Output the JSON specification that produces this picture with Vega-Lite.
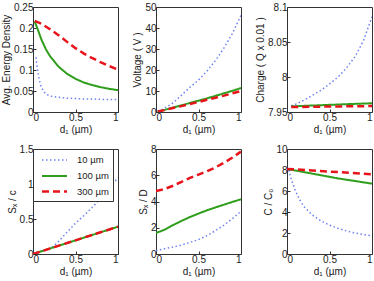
{
  "$schema": "https://vega.github.io/schema/vega-lite/v6.json",
  "padding": {"left": 1, "top": 1, "right": 1, "bottom": 1},
  "background": "white",
  "datasets": {
    "p1": [
      {"s": "10 µm", "x": 0.035, "y": 0.13}, {"s": "10 µm", "x": 0.05, "y": 0.105}, {"s": "10 µm", "x": 0.07, "y": 0.08}, {"s": "10 µm", "x": 0.09, "y": 0.064}, {"s": "10 µm", "x": 0.12, "y": 0.05}, {"s": "10 µm", "x": 0.15, "y": 0.043}, {"s": "10 µm", "x": 0.2, "y": 0.038}, {"s": "10 µm", "x": 0.3, "y": 0.035}, {"s": "10 µm", "x": 0.4, "y": 0.033}, {"s": "10 µm", "x": 0.5, "y": 0.032}, {"s": "10 µm", "x": 0.6, "y": 0.031}, {"s": "10 µm", "x": 0.7, "y": 0.031}, {"s": "10 µm", "x": 0.8, "y": 0.03}, {"s": "10 µm", "x": 0.9, "y": 0.03}, {"s": "10 µm", "x": 1.0, "y": 0.03},
      {"s": "100 µm", "x": 0.02, "y": 0.215}, {"s": "100 µm", "x": 0.05, "y": 0.2}, {"s": "100 µm", "x": 0.1, "y": 0.172}, {"s": "100 µm", "x": 0.15, "y": 0.15}, {"s": "100 µm", "x": 0.2, "y": 0.133}, {"s": "100 µm", "x": 0.3, "y": 0.108}, {"s": "100 µm", "x": 0.4, "y": 0.091}, {"s": "100 µm", "x": 0.5, "y": 0.079}, {"s": "100 µm", "x": 0.6, "y": 0.07}, {"s": "100 µm", "x": 0.7, "y": 0.064}, {"s": "100 µm", "x": 0.8, "y": 0.059}, {"s": "100 µm", "x": 0.9, "y": 0.055}, {"s": "100 µm", "x": 1.0, "y": 0.052},
      {"s": "300 µm", "x": 0.02, "y": 0.217}, {"s": "300 µm", "x": 0.1, "y": 0.21}, {"s": "300 µm", "x": 0.2, "y": 0.197}, {"s": "300 µm", "x": 0.3, "y": 0.183}, {"s": "300 µm", "x": 0.4, "y": 0.167}, {"s": "300 µm", "x": 0.5, "y": 0.152}, {"s": "300 µm", "x": 0.6, "y": 0.139}, {"s": "300 µm", "x": 0.7, "y": 0.128}, {"s": "300 µm", "x": 0.8, "y": 0.118}, {"s": "300 µm", "x": 0.9, "y": 0.109}, {"s": "300 µm", "x": 1.0, "y": 0.101}
    ],
    "p2": [
      {"s": "10 µm", "x": 0.02, "y": 0.3}, {"s": "10 µm", "x": 0.1, "y": 1.8}, {"s": "10 µm", "x": 0.2, "y": 4.3}, {"s": "10 µm", "x": 0.3, "y": 8}, {"s": "10 µm", "x": 0.4, "y": 11.8}, {"s": "10 µm", "x": 0.5, "y": 15.2}, {"s": "10 µm", "x": 0.6, "y": 19.5}, {"s": "10 µm", "x": 0.7, "y": 24.5}, {"s": "10 µm", "x": 0.8, "y": 30.5}, {"s": "10 µm", "x": 0.9, "y": 37.5}, {"s": "10 µm", "x": 1.0, "y": 46},
      {"s": "100 µm", "x": 0.02, "y": 0.2}, {"s": "100 µm", "x": 0.1, "y": 1.0}, {"s": "100 µm", "x": 0.2, "y": 2.1}, {"s": "100 µm", "x": 0.3, "y": 3.2}, {"s": "100 µm", "x": 0.4, "y": 4.3}, {"s": "100 µm", "x": 0.5, "y": 5.4}, {"s": "100 µm", "x": 0.6, "y": 6.5}, {"s": "100 µm", "x": 0.7, "y": 7.7}, {"s": "100 µm", "x": 0.8, "y": 8.9}, {"s": "100 µm", "x": 0.9, "y": 10.1}, {"s": "100 µm", "x": 1.0, "y": 11.4},
      {"s": "300 µm", "x": 0.02, "y": 0.2}, {"s": "300 µm", "x": 0.1, "y": 0.9}, {"s": "300 µm", "x": 0.2, "y": 1.9}, {"s": "300 µm", "x": 0.3, "y": 2.8}, {"s": "300 µm", "x": 0.4, "y": 3.8}, {"s": "300 µm", "x": 0.5, "y": 4.8}, {"s": "300 µm", "x": 0.6, "y": 5.8}, {"s": "300 µm", "x": 0.7, "y": 6.8}, {"s": "300 µm", "x": 0.8, "y": 7.8}, {"s": "300 µm", "x": 0.9, "y": 8.9}, {"s": "300 µm", "x": 1.0, "y": 10.0}
    ],
    "p3": [
      {"s": "10 µm", "x": 0.05, "y": 7.959}, {"s": "10 µm", "x": 0.1, "y": 7.961}, {"s": "10 µm", "x": 0.2, "y": 7.967}, {"s": "10 µm", "x": 0.3, "y": 7.974}, {"s": "10 µm", "x": 0.4, "y": 7.981}, {"s": "10 µm", "x": 0.5, "y": 7.99}, {"s": "10 µm", "x": 0.6, "y": 8.0}, {"s": "10 µm", "x": 0.7, "y": 8.013}, {"s": "10 µm", "x": 0.8, "y": 8.029}, {"s": "10 µm", "x": 0.9, "y": 8.052}, {"s": "10 µm", "x": 1.0, "y": 8.086},
      {"s": "100 µm", "x": 0.05, "y": 7.958}, {"s": "100 µm", "x": 0.25, "y": 7.959}, {"s": "100 µm", "x": 0.5, "y": 7.9602}, {"s": "100 µm", "x": 0.75, "y": 7.9614}, {"s": "100 µm", "x": 1.0, "y": 7.9625},
      {"s": "300 µm", "x": 0.05, "y": 7.957}, {"s": "300 µm", "x": 0.5, "y": 7.9578}, {"s": "300 µm", "x": 1.0, "y": 7.9585}
    ],
    "p4": [
      {"s": "10 µm", "x": 0, "y": 0}, {"s": "10 µm", "x": 0.1, "y": 0.04}, {"s": "10 µm", "x": 0.2, "y": 0.08}, {"s": "10 µm", "x": 0.25, "y": 0.12}, {"s": "10 µm", "x": 0.3, "y": 0.18}, {"s": "10 µm", "x": 0.4, "y": 0.31}, {"s": "10 µm", "x": 0.5, "y": 0.44}, {"s": "10 µm", "x": 0.6, "y": 0.55}, {"s": "10 µm", "x": 0.7, "y": 0.67}, {"s": "10 µm", "x": 0.8, "y": 0.8}, {"s": "10 µm", "x": 0.9, "y": 0.94}, {"s": "10 µm", "x": 1.0, "y": 1.09},
      {"s": "100 µm", "x": 0, "y": 0}, {"s": "100 µm", "x": 0.25, "y": 0.098}, {"s": "100 µm", "x": 0.5, "y": 0.195}, {"s": "100 µm", "x": 0.75, "y": 0.293}, {"s": "100 µm", "x": 1.0, "y": 0.39},
      {"s": "300 µm", "x": 0, "y": 0}, {"s": "300 µm", "x": 0.25, "y": 0.098}, {"s": "300 µm", "x": 0.5, "y": 0.195}, {"s": "300 µm", "x": 0.75, "y": 0.293}, {"s": "300 µm", "x": 1.0, "y": 0.39}
    ],
    "p5": [
      {"s": "10 µm", "x": 0, "y": 0.25}, {"s": "10 µm", "x": 0.1, "y": 0.4}, {"s": "10 µm", "x": 0.2, "y": 0.53}, {"s": "10 µm", "x": 0.3, "y": 0.68}, {"s": "10 µm", "x": 0.4, "y": 0.88}, {"s": "10 µm", "x": 0.5, "y": 1.1}, {"s": "10 µm", "x": 0.6, "y": 1.4}, {"s": "10 µm", "x": 0.7, "y": 1.78}, {"s": "10 µm", "x": 0.8, "y": 2.2}, {"s": "10 µm", "x": 0.9, "y": 2.7}, {"s": "10 µm", "x": 1.0, "y": 3.25},
      {"s": "100 µm", "x": 0, "y": 1.6}, {"s": "100 µm", "x": 0.1, "y": 1.85}, {"s": "100 µm", "x": 0.2, "y": 2.2}, {"s": "100 µm", "x": 0.3, "y": 2.52}, {"s": "100 µm", "x": 0.4, "y": 2.82}, {"s": "100 µm", "x": 0.5, "y": 3.08}, {"s": "100 µm", "x": 0.6, "y": 3.33}, {"s": "100 µm", "x": 0.7, "y": 3.55}, {"s": "100 µm", "x": 0.8, "y": 3.76}, {"s": "100 µm", "x": 0.9, "y": 3.97}, {"s": "100 µm", "x": 1.0, "y": 4.17},
      {"s": "300 µm", "x": 0, "y": 4.8}, {"s": "300 µm", "x": 0.1, "y": 4.95}, {"s": "300 µm", "x": 0.2, "y": 5.2}, {"s": "300 µm", "x": 0.3, "y": 5.5}, {"s": "300 µm", "x": 0.4, "y": 5.8}, {"s": "300 µm", "x": 0.5, "y": 6.05}, {"s": "300 µm", "x": 0.6, "y": 6.3}, {"s": "300 µm", "x": 0.7, "y": 6.6}, {"s": "300 µm", "x": 0.8, "y": 6.95}, {"s": "300 µm", "x": 0.9, "y": 7.35}, {"s": "300 µm", "x": 1.0, "y": 7.8}
    ],
    "p6": [
      {"s": "10 µm", "x": 0.02, "y": 8.0}, {"s": "10 µm", "x": 0.05, "y": 7.1}, {"s": "10 µm", "x": 0.1, "y": 6.0}, {"s": "10 µm", "x": 0.15, "y": 5.15}, {"s": "10 µm", "x": 0.2, "y": 4.5}, {"s": "10 µm", "x": 0.3, "y": 3.7}, {"s": "10 µm", "x": 0.4, "y": 3.15}, {"s": "10 µm", "x": 0.5, "y": 2.75}, {"s": "10 µm", "x": 0.6, "y": 2.45}, {"s": "10 µm", "x": 0.7, "y": 2.2}, {"s": "10 µm", "x": 0.8, "y": 2.0}, {"s": "10 µm", "x": 0.9, "y": 1.85}, {"s": "10 µm", "x": 1.0, "y": 1.72},
      {"s": "100 µm", "x": 0, "y": 8.1}, {"s": "100 µm", "x": 0.2, "y": 7.8}, {"s": "100 µm", "x": 0.4, "y": 7.5}, {"s": "100 µm", "x": 0.6, "y": 7.2}, {"s": "100 µm", "x": 0.8, "y": 6.95}, {"s": "100 µm", "x": 1.0, "y": 6.7},
      {"s": "300 µm", "x": 0, "y": 8.1}, {"s": "300 µm", "x": 0.25, "y": 7.98}, {"s": "300 µm", "x": 0.5, "y": 7.85}, {"s": "300 µm", "x": 0.75, "y": 7.72}, {"s": "300 µm", "x": 1.0, "y": 7.6}
    ]
  },
  "columns": 3,
  "align": "each",
  "spacing": {"column": 13, "row": 8},
  "resolve": {"legend": {"color": "independent", "strokeDash": "independent", "strokeWidth": "independent"}},
  "concat": [
    {
      "width": 85, "height": 105, "data": {"name": "p1"},
      "mark": {"type": "line", "clip": true},
      "encoding": {
        "x": {"field": "x", "type": "quantitative", "scale": {"domain": [0, 1]}, "axis": {"values": [0, 0.5, 1], "labelExpr": "datum.value + ''", "title": "d₁ (µm)"}},
        "y": {"field": "y", "type": "quantitative", "scale": {"domain": [0, 0.25], "nice": false, "zero": false}, "axis": {"values": [0, 0.05, 0.1, 0.15, 0.2, 0.25], "labelExpr": "datum.value + ''", "title": "Avg. Energy Density"}},
        "color": {"field": "s", "type": "nominal", "scale": {"domain": ["10 µm", "100 µm", "300 µm"], "range": ["#6f82f0", "#2f9e1c", "#e8141c"]}, "legend": null},
        "strokeDash": {"field": "s", "type": "nominal", "scale": {"domain": ["10 µm", "100 µm", "300 µm"], "range": [[1.5, 2.5], [1, 0], [7, 4]]}, "legend": null},
        "strokeWidth": {"field": "s", "type": "nominal", "scale": {"domain": ["10 µm", "100 µm", "300 µm"], "range": [1.5, 2.5, 3]}, "legend": null}
      }
    },
    {
      "width": 85, "height": 105, "data": {"name": "p2"},
      "mark": {"type": "line", "clip": true},
      "encoding": {
        "x": {"field": "x", "type": "quantitative", "scale": {"domain": [0, 1]}, "axis": {"values": [0, 0.5, 1], "labelExpr": "datum.value + ''", "title": "d₁ (µm)"}},
        "y": {"field": "y", "type": "quantitative", "scale": {"domain": [0, 50], "nice": false, "zero": false}, "axis": {"values": [0, 10, 20, 30, 40, 50], "labelExpr": "datum.value + ''", "title": "Voltage ( V )"}},
        "color": {"field": "s", "type": "nominal", "scale": {"domain": ["10 µm", "100 µm", "300 µm"], "range": ["#6f82f0", "#2f9e1c", "#e8141c"]}, "legend": null},
        "strokeDash": {"field": "s", "type": "nominal", "scale": {"domain": ["10 µm", "100 µm", "300 µm"], "range": [[1.5, 2.5], [1, 0], [7, 4]]}, "legend": null},
        "strokeWidth": {"field": "s", "type": "nominal", "scale": {"domain": ["10 µm", "100 µm", "300 µm"], "range": [1.5, 2.5, 3]}, "legend": null}
      }
    },
    {
      "width": 85, "height": 105, "data": {"name": "p3"},
      "mark": {"type": "line", "clip": true},
      "encoding": {
        "x": {"field": "x", "type": "quantitative", "scale": {"domain": [0, 1]}, "axis": {"values": [0, 0.5, 1], "labelExpr": "datum.value + ''", "title": "d₁ (µm)"}},
        "y": {"field": "y", "type": "quantitative", "scale": {"domain": [7.95, 8.1], "nice": false, "zero": false}, "axis": {"values": [7.95, 8, 8.05, 8.1], "labelExpr": "datum.value + ''", "title": "Charge ( Q x 0.01 )"}},
        "color": {"field": "s", "type": "nominal", "scale": {"domain": ["10 µm", "100 µm", "300 µm"], "range": ["#6f82f0", "#2f9e1c", "#e8141c"]}, "legend": null},
        "strokeDash": {"field": "s", "type": "nominal", "scale": {"domain": ["10 µm", "100 µm", "300 µm"], "range": [[1.5, 2.5], [1, 0], [7, 4]]}, "legend": null},
        "strokeWidth": {"field": "s", "type": "nominal", "scale": {"domain": ["10 µm", "100 µm", "300 µm"], "range": [1.5, 2.5, 3]}, "legend": null}
      }
    },
    {
      "width": 85, "height": 105, "data": {"name": "p4"},
      "mark": {"type": "line", "clip": true},
      "encoding": {
        "x": {"field": "x", "type": "quantitative", "scale": {"domain": [0, 1]}, "axis": {"values": [0, 0.5, 1], "labelExpr": "datum.value + ''", "title": "d₁ (µm)"}},
        "y": {"field": "y", "type": "quantitative", "scale": {"domain": [0, 1.5], "nice": false, "zero": false}, "axis": {"values": [0, 0.5, 1, 1.5], "labelExpr": "datum.value + ''", "title": "Sₓ / c"}},
        "color": {"field": "s", "type": "nominal", "scale": {"domain": ["10 µm", "100 µm", "300 µm"], "range": ["#6f82f0", "#2f9e1c", "#e8141c"]}, "legend": {"orient": "top-left", "offset": 0, "title": null, "fillColor": "white", "strokeColor": "#333", "padding": 4, "symbolType": "M-2,0H2", "symbolSize": 156, "symbolOffset": 10, "rowPadding": 3.5, "labelFontSize": 9.5, "labelOffset": 15, "labelColor": "#222", "labelFont": "Liberation Sans"}},
        "strokeDash": {"field": "s", "type": "nominal", "scale": {"domain": ["10 µm", "100 µm", "300 µm"], "range": [[1.5, 2.5], [1, 0], [7, 4]]}},
        "strokeWidth": {"field": "s", "type": "nominal", "scale": {"domain": ["10 µm", "100 µm", "300 µm"], "range": [1.5, 2.5, 3]}}
      }
    },
    {
      "width": 85, "height": 105, "data": {"name": "p5"},
      "mark": {"type": "line", "clip": true},
      "encoding": {
        "x": {"field": "x", "type": "quantitative", "scale": {"domain": [0, 1]}, "axis": {"values": [0, 0.5, 1], "labelExpr": "datum.value + ''", "title": "d₁ (µm)"}},
        "y": {"field": "y", "type": "quantitative", "scale": {"domain": [0, 8], "nice": false, "zero": false}, "axis": {"values": [0, 2, 4, 6, 8], "labelExpr": "datum.value + ''", "title": "Sₓ / D"}},
        "color": {"field": "s", "type": "nominal", "scale": {"domain": ["10 µm", "100 µm", "300 µm"], "range": ["#6f82f0", "#2f9e1c", "#e8141c"]}, "legend": null},
        "strokeDash": {"field": "s", "type": "nominal", "scale": {"domain": ["10 µm", "100 µm", "300 µm"], "range": [[1.5, 2.5], [1, 0], [7, 4]]}, "legend": null},
        "strokeWidth": {"field": "s", "type": "nominal", "scale": {"domain": ["10 µm", "100 µm", "300 µm"], "range": [1.5, 2.5, 3]}, "legend": null}
      }
    },
    {
      "width": 85, "height": 105, "data": {"name": "p6"},
      "mark": {"type": "line", "clip": true},
      "encoding": {
        "x": {"field": "x", "type": "quantitative", "scale": {"domain": [0, 1]}, "axis": {"values": [0, 0.5, 1], "labelExpr": "datum.value + ''", "title": "d₁ (µm)"}},
        "y": {"field": "y", "type": "quantitative", "scale": {"domain": [0, 10], "nice": false, "zero": false}, "axis": {"values": [0, 2, 4, 6, 8, 10], "labelExpr": "datum.value + ''", "title": "C / C₀"}},
        "color": {"field": "s", "type": "nominal", "scale": {"domain": ["10 µm", "100 µm", "300 µm"], "range": ["#6f82f0", "#2f9e1c", "#e8141c"]}, "legend": null},
        "strokeDash": {"field": "s", "type": "nominal", "scale": {"domain": ["10 µm", "100 µm", "300 µm"], "range": [[1.5, 2.5], [1, 0], [7, 4]]}, "legend": null},
        "strokeWidth": {"field": "s", "type": "nominal", "scale": {"domain": ["10 µm", "100 µm", "300 µm"], "range": [1.5, 2.5, 3]}, "legend": null}
      }
    }
  ],
  "config": {
    "view": {"stroke": "#333", "strokeWidth": 1},
    "font": "Liberation Sans",
    "axis": {
      "labelFont": "Liberation Sans", "labelFontSize": 10, "labelColor": "#222",
      "titleFont": "Liberation Sans", "titleFontSize": 10, "titleFontWeight": "normal", "titleColor": "#222",
      "grid": false, "domain": false, "ticks": true, "tickSize": -3, "tickColor": "#333", "labelPadding": 3, "titlePadding": 2
    }
  }
}
